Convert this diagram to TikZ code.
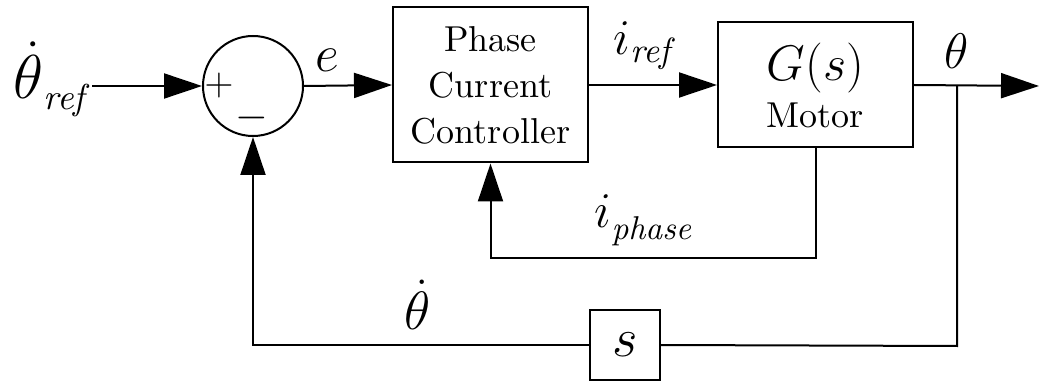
\RequirePackage{fix-cm}
\documentclass[tikz,border=0pt]{standalone}
\usepackage{fontspec}
\setmainfont{lmroman10-regular}[Extension=.otf, ItalicFont=lmroman10-italic, BoldFont=lmroman10-bold]
\usetikzlibrary{arrows.meta}
\newcommand\fsz[1]{\fontsize{#1}{#1}\selectfont}
\newcommand\subtxt[3]{\raisebox{-#1pt}{\fsz{#2}\itshape #3}}
\begin{document}
\begin{tikzpicture}[x=1pt,y=-1pt,
  line width=2pt,
  >={Triangle[length=38pt,width=25pt]},
  blk/.style={draw, line width=2pt, inner sep=0pt, align=center},
  lbl/.style={inner sep=0pt}]
\useasboundingbox (0,0) rectangle (1039,387);
% blocks
\node[circle, draw, line width=2pt, minimum size=100pt, inner sep=0pt] (sum) at (253,86) {};
\node[lbl, font=\fsz{40}] (plus) at (219,86) {$+$};
\node[lbl, font=\fsz{42}] (minus) at (252,118) {$-$};
\node[blk, minimum width=195pt, minimum height=155pt, font=\fontsize{36}{46}\selectfont] (pcc) at (490.5,85) {Phase\\Current\\Controller};
\node[blk, minimum width=195pt, minimum height=125pt, font=\fontsize{36}{47}\selectfont] (motor) at (815.5,85)
  {{\fsz{50}$G(s)$}\\Motor};
\node[blk, minimum width=70pt, minimum height=70pt, font=\fsz{55}] (s) at (625,345) {$s$};
% coordinates
\coordinate (in) at (92,86);
\coordinate (out) at (1039,86);
\coordinate (br) at (957,86);
\coordinate (bl) at (957,346);
% connectors
\draw[->] (in) -- (sum.west);
\draw[->] (sum.east) -- (pcc.west);
\draw[->] (pcc.east) -- (motor.west);
\draw[->] (motor.east) -- (out);
\draw (br) -- (bl) -- (s.east);
\draw[->] (s.west) -| (sum.south);
\draw[->] (motor.south) -- ++(0,110) -| (pcc.south);
% labels
\node[lbl, anchor=base west, font=\fsz{62}] (thref) at (12,99) {$\dot{\theta}$\kern1pt\subtxt{11}{36}{ref}};
\node[lbl, anchor=base, font=\fsz{52}] (e) at (327,72) {$e$};
\node[lbl, anchor=base west, font=\fsz{50}] (iref) at (612,55) {$i$\kern1pt\subtxt{8}{35}{ref}};
\node[lbl, anchor=base west, font=\fsz{50}] (iph) at (593,228) {$i$\kern1pt\subtxt{12}{33}{phase}};
\node[lbl, anchor=base, font=\fsz{50}] (th) at (957,69) {$\theta$};
\node[lbl, anchor=base, font=\fsz{54}] (thd) at (418,330) {$\dot{\theta}$};
\end{tikzpicture}
\end{document}
